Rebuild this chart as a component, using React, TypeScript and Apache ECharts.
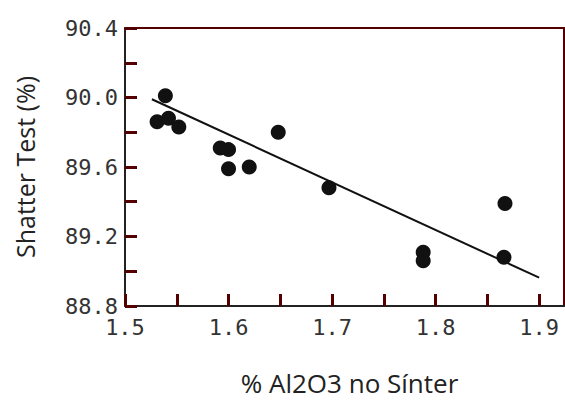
import React, { useEffect, useRef } from "react";
import * as echarts from "echarts";

const alumina = [1.531, 1.539, 1.542, 1.552, 1.592, 1.6, 1.6, 1.62, 1.648, 1.697, 1.788, 1.788, 1.867, 1.866];
const shatter = [89.86, 90.01, 89.88, 89.83, 89.71, 89.7, 89.59, 89.6, 89.8, 89.48, 89.11, 89.06, 89.39, 89.08];
const fitX = [1.526, 1.9];
const fitY = [89.99, 88.963];

const xTitle = "% Al2O3 no Sínter";
const yTitle = "Shatter Test (%)";

export default function App() {
  const ref = useRef<HTMLDivElement>(null);
  useEffect(() => {
    if (!ref.current) return;
    const chart = echarts.init(ref.current, undefined, { renderer: "svg" });
    const tickFont = { fontFamily: "DejaVu Sans Mono", fontSize: 22, color: "#333" };
    const tickStyle = { color: "#550000", width: 3, opacity: 1 };
    const borderStyle = { color: "#550000", width: 2, opacity: 1 };
    chart.setOption({
      animation: false,
      backgroundColor: "#fff",
      grid: {
        left: 125,
        top: 28,
        right: 1,
        bottom: 89,
        show: false,
        containLabel: false,
      },
      xAxis: [
        {
          type: "value",
          min: 1.5,
          max: 1.924,
          interval: 0.05,
          name: xTitle,
          nameLocation: "middle",
          nameGap: 64,
          nameTextStyle: { fontFamily: "Open Sans", fontSize: 26, color: "#222", padding: [0, 0, 0, 10] },
          axisLine: { show: true, onZero: false, lineStyle: { color: "#222", width: 2, opacity: 1 } },
          axisTick: { show: true, inside: true, length: 12, lineStyle: tickStyle },
          splitLine: { show: false },
          axisLabel: {
            ...tickFont,
            margin: 10,
            showMaxLabel: false,
            formatter: (v: number) => (Math.round(v * 100) % 10 === 0 ? v.toFixed(1) : ""),
          },
        },
        {
          type: "value",
          position: "top",
          min: 1.5,
          max: 1.924,
          axisLine: { show: true, onZero: false, lineStyle: borderStyle },
          axisTick: { show: false },
          axisLabel: { show: false },
          splitLine: { show: false },
        },
      ],
      yAxis: [
        {
          type: "value",
          min: 88.8,
          max: 90.4,
          interval: 0.2,
          name: yTitle,
          nameLocation: "middle",
          nameGap: 88,
          nameRotate: 90,
          nameTextStyle: { fontFamily: "Open Sans", fontSize: 25, color: "#222" },
          axisLine: { show: true, onZero: false, lineStyle: { color: "#222", width: 2, opacity: 1 } },
          axisTick: { show: true, inside: true, length: 12, lineStyle: tickStyle },
          splitLine: { show: false },
          axisLabel: {
            ...tickFont,
            margin: 7,
            formatter: (v: number) => (Math.round(v * 10) % 4 === 0 ? v.toFixed(1) : ""),
          },
        },
        {
          type: "value",
          position: "right",
          min: 88.8,
          max: 90.4,
          axisLine: { show: true, onZero: false, lineStyle: borderStyle },
          axisTick: { show: false },
          axisLabel: { show: false },
          splitLine: { show: false },
        },
      ],
      series: [
        {
          type: "line",
          data: fitX.map((x, i) => [x, fitY[i]]),
          showSymbol: false,
          symbol: "none",
          lineStyle: { color: "#111", width: 2 },
          z: 2,
        },
        {
          type: "scatter",
          data: alumina.map((x, i) => [x, shatter[i]]),
          symbol: "circle",
          symbolSize: 15,
          itemStyle: { color: "#111", opacity: 1 },
          z: 3,
        },
      ],
    });
    return () => chart.dispose();
  }, []);
  return <div ref={ref} style={{ width: 565, height: 401, position: "absolute", left: 0, top: 0 }} />;
}
